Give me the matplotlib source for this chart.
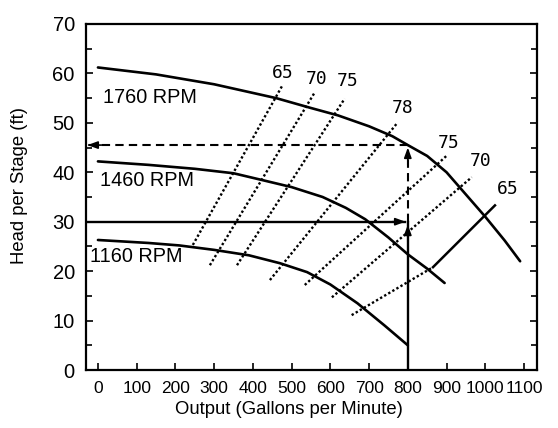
import matplotlib
matplotlib.use("Agg")
import matplotlib.pyplot as plt
from matplotlib.ticker import MultipleLocator

plt.rcParams['font.family'] = ['Liberation Sans', 'DejaVu Sans']

# pump curves (gpm, ft)
gpm_1760 = [0, 150, 300, 460, 550, 620, 700, 760, 800, 850, 900, 950, 1000, 1050, 1090]
head_1760 = [61.2, 59.8, 57.8, 55.0, 53.0, 51.5, 49.3, 47.3, 45.5, 43.3, 40.0, 35.5, 31.0, 26.2, 22.0]

gpm_1460 = [0, 130, 250, 350, 420, 500, 580, 640, 690, 750, 800, 850, 895]
head_1460 = [42.2, 41.5, 40.7, 39.8, 38.5, 37.0, 35.0, 32.8, 30.5, 26.8, 23.4, 20.5, 17.6]

gpm_1160 = [0, 130, 210, 300, 390, 470, 540, 600, 670, 740, 800]
head_1160 = [26.3, 25.7, 25.2, 24.3, 23.2, 21.6, 19.8, 17.3, 13.5, 9.0, 5.0]

rpm_labels = ['1760 RPM', '1460 RPM', '1160 RPM']
rpm_label_x = [13, 5, -21]
rpm_label_y = [55.2, 38.4, 23.0]

# efficiency lines: (x0, y0) -> (x1, y1)
eff_names = ['65', '70', '75', '78', '75', '70', '65']
eff_x0 = [245, 289, 359, 444, 534, 604, 655]
eff_y0 = [25.3, 21.2, 21.2, 18.2, 17.2, 14.7, 11.1]
eff_x1 = [475, 560, 637, 772, 901, 965, 865]
eff_y1 = [57.4, 56.2, 54.9, 49.9, 43.4, 39.0, 20.8]
eff_label_x = [477, 565, 645, 787, 906, 988, 1058]
eff_label_y = [60.0, 58.8, 58.4, 53.1, 45.9, 42.2, 36.6]
# solid end of the right-hand 65 line
solid65_x = [865, 1025]
solid65_y = [20.8, 33.3]

# operating point
flow_op = 800
head_low = 30
head_high = 45.5

fig = plt.figure(figsize=(5.58, 4.28), dpi=100)
ax = fig.add_axes([0.154, 0.1355, 0.808, 0.8085])

ax.set_xlim(-31, 1133)
ax.set_ylim(0, 70)

lw_curve = 1.9
for gx, hy in [(gpm_1760, head_1760), (gpm_1460, head_1460), (gpm_1160, head_1160)]:
    ax.plot(gx, hy, color='black', lw=lw_curve, solid_capstyle='round', zorder=3)

for name, x, y in zip(rpm_labels, rpm_label_x, rpm_label_y):
    ax.text(x, y, name, fontsize=14.3, ha='left', va='center', zorder=4)

for x0, y0, x1, y1 in zip(eff_x0, eff_y0, eff_x1, eff_y1):
    ax.plot([x0, x1], [y0, y1], color='black', lw=1.7, linestyle=(0, (1, 1)), zorder=2)
ax.plot(solid65_x, solid65_y, color='black', lw=1.8, zorder=2)

for name, x, y in zip(eff_names, eff_label_x, eff_label_y):
    ax.text(x, y, name, fontsize=13, ha='center', va='center',
            family=['DejaVu Sans Mono', 'DejaVu Sans'], zorder=4)

xmin = ax.get_xlim()[0]
head_kw = dict(arrowstyle='-|>,head_length=0.6,head_width=0.22', color='black', lw=1.2,
               shrinkA=0, shrinkB=0)

# solid: up from 800 gpm and across at 30 ft
ax.plot([flow_op, flow_op], [0, head_low], color='black', lw=1.7, zorder=3)
ax.plot([xmin, flow_op - 8], [head_low, head_low], color='black', lw=1.7, zorder=3)
ax.annotate('', xy=(flow_op - 6, head_low), xytext=(flow_op - 40, head_low), arrowprops=head_kw)
ax.annotate('', xy=(flow_op, head_low - 0.6), xytext=(flow_op, head_low - 4), arrowprops=head_kw)

# dashed: up to 45.5 ft and back to the axis
ax.plot([flow_op, flow_op], [head_low, head_high - 1], color='black', lw=1.5,
        linestyle=(0, (4, 2.5)), zorder=3)
ax.plot([flow_op, xmin], [head_high, head_high], color='black', lw=1.5,
        linestyle=(0, (4, 2.5)), zorder=3)
ax.annotate('', xy=(flow_op, head_high - 0.5), xytext=(flow_op, head_high - 4), arrowprops=head_kw)
ax.annotate('', xy=(xmin + 4, head_high), xytext=(xmin + 40, head_high), arrowprops=head_kw)

ax.xaxis.set_major_locator(MultipleLocator(100))
ax.yaxis.set_major_locator(MultipleLocator(10))
ax.yaxis.set_minor_locator(MultipleLocator(5))
ax.tick_params(which='both', direction='in', right=True, width=1.2, colors='black')
ax.tick_params(which='major', length=5)
ax.tick_params(which='minor', length=4)
ax.tick_params(axis='x', labelsize=12.5, pad=8)
ax.tick_params(axis='y', labelsize=14.5, pad=8)
for sp in ax.spines.values():
    sp.set_linewidth(1.6)

fig.text(289 / 558, 1 - 410 / 428, 'Output (Gallons per Minute)', fontsize=13.3,
         ha='center', va='center')
fig.text(20 / 558, 1 - 185 / 428, 'Head per Stage (ft)', fontsize=13.3,
         ha='center', va='center', rotation=90)

fig.savefig('out.png', dpi=100, facecolor='white')
